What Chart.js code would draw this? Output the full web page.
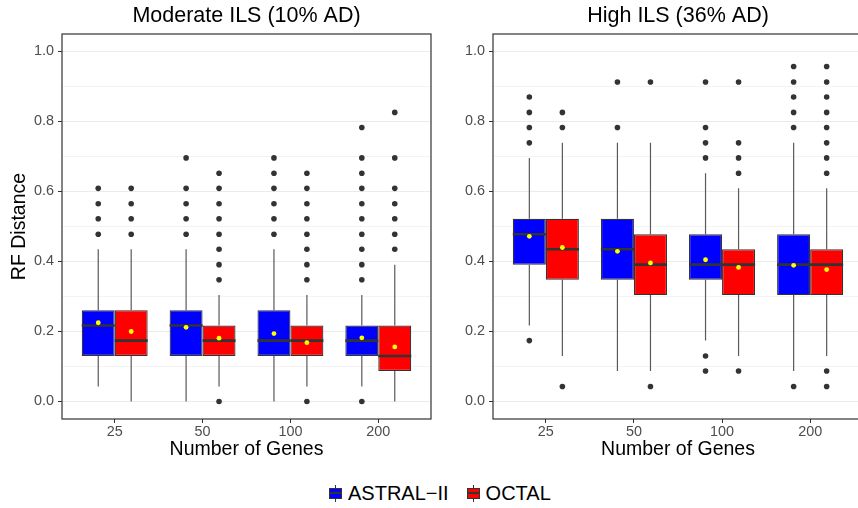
<!DOCTYPE html>
<html>
<head>
<meta charset="UTF-8">
<title>RF Distance by number of genes</title>
<script src="https://cdn.jsdelivr.net/npm/chart.js"></script>
<style>
  body { margin: 0; background: white; overflow: hidden; }
  #wrap { position: relative; width: 858px; height: 508px; overflow: hidden; background: white; }
  #left { position: absolute; left: 0; top: 0; }
  #right { position: absolute; left: 431px; top: 0; }
  #legend {
    position: absolute; left: 329px; top: 482px; height: 22px;
    display: flex; align-items: center;
    font-family: 'Liberation Sans', Arial, sans-serif; font-size: 20px; color: black;
  }
  .key { position: relative; display: inline-block; width: 13px; height: 17px; margin-right: 6px; }
  .key .wh { position: absolute; left: 6px; top: 0; width: 1px; height: 17px; background: #333; }
  .key .bx { position: absolute; left: 0; top: 3px; width: 11px; height: 9px; border: 1px solid #333; }
  .key .md { position: absolute; left: 0; top: 7px; width: 13px; height: 2px; background: #333; }
  .item { display: flex; align-items: center; margin-right: 18px; }
</style>
</head>
<body>
<div id="wrap">
  <canvas id="left" width="440" height="470"></canvas>
  <canvas id="right" width="440" height="470"></canvas>
  <div id="legend">
    <span class="item"><span class="key"><span class="wh"></span><span class="bx" style="background:#0000ff"></span><span class="md"></span></span>ASTRAL&minus;II</span>
    <span class="item"><span class="key"><span class="wh"></span><span class="bx" style="background:#ff0000"></span><span class="md"></span></span>OCTAL</span>
  </div>
</div>

<script>
  const genes = ['25', '50', '100', '200'];
  const yTicks = [0, 0.1, 0.2, 0.3, 0.4, 0.5, 0.6, 0.7, 0.8, 0.9, 1.0];

  // each box: [lower whisker, Q1, median, Q3, upper whisker]
  // Moderate ILS
  const modAstralBox = [
    [0.043, 0.130, 0.217, 0.261, 0.435],
    [0.000, 0.130, 0.217, 0.261, 0.435],
    [0.000, 0.130, 0.174, 0.261, 0.435],
    [0.043, 0.130, 0.174, 0.217, 0.304]
  ];
  const modAstralMean = [0.225, 0.212, 0.194, 0.182];
  const modAstralOut = [
    [0.478, 0.522, 0.565, 0.609],
    [0.478, 0.522, 0.565, 0.609, 0.696],
    [0.478, 0.522, 0.565, 0.609, 0.652, 0.696],
    [0.000, 0.348, 0.391, 0.435, 0.478, 0.522, 0.565, 0.609, 0.652, 0.696, 0.783]
  ];
  const modOctalBox = [
    [0.000, 0.130, 0.174, 0.261, 0.435],
    [0.043, 0.130, 0.174, 0.217, 0.304],
    [0.043, 0.130, 0.174, 0.217, 0.304],
    [0.000, 0.087, 0.130, 0.217, 0.391]
  ];
  const modOctalMean = [0.200, 0.181, 0.168, 0.156];
  const modOctalOut = [
    [0.478, 0.522, 0.565, 0.609],
    [0.000, 0.348, 0.391, 0.435, 0.478, 0.522, 0.565, 0.609, 0.652],
    [0.000, 0.348, 0.391, 0.435, 0.478, 0.522, 0.565, 0.609, 0.652],
    [0.435, 0.478, 0.522, 0.565, 0.609, 0.696, 0.826]
  ];

  // High ILS
  const highAstralBox = [
    [0.217, 0.391, 0.478, 0.522, 0.696],
    [0.087, 0.348, 0.435, 0.522, 0.739],
    [0.174, 0.348, 0.391, 0.478, 0.652],
    [0.087, 0.304, 0.391, 0.478, 0.739]
  ];
  const highAstralMean = [0.472, 0.429, 0.405, 0.389];
  const highAstralOut = [
    [0.174, 0.739, 0.783, 0.826, 0.870],
    [0.783, 0.913],
    [0.087, 0.130, 0.696, 0.739, 0.783, 0.913],
    [0.043, 0.783, 0.826, 0.870, 0.913, 0.957]
  ];
  const highOctalBox = [
    [0.130, 0.348, 0.435, 0.522, 0.739],
    [0.087, 0.304, 0.391, 0.478, 0.739],
    [0.130, 0.304, 0.391, 0.435, 0.609],
    [0.130, 0.304, 0.391, 0.435, 0.609]
  ];
  const highOctalMean = [0.440, 0.396, 0.383, 0.377];
  const highOctalOut = [
    [0.043, 0.783, 0.826],
    [0.043, 0.913],
    [0.087, 0.652, 0.696, 0.739, 0.913],
    [0.043, 0.087, 0.652, 0.696, 0.739, 0.783, 0.826, 0.870, 0.913, 0.957]
  ];

  const FONT = "'Liberation Sans', Arial, sans-serif";
  const DODGE = 0.1875; // half of a dodged box, in category units

  // whiskers, medians and panel frame
  const boxParts = {
    id: 'boxParts',
    beforeDatasetDraw(chart, args) {
      const ds = chart.data.datasets[args.index];
      if (!ds.box) return;
      const y = chart.scales.y;
      const ctx = chart.ctx;
      ctx.save();
      ctx.strokeStyle = '#5a5a5a';
      ctx.lineWidth = 1.2;
      args.meta.data.forEach((bar, i) => {
        const b = ds.box[i];
        ctx.beginPath();
        ctx.moveTo(bar.x, y.getPixelForValue(b[0]));
        ctx.lineTo(bar.x, y.getPixelForValue(b[1]));
        ctx.moveTo(bar.x, y.getPixelForValue(b[3]));
        ctx.lineTo(bar.x, y.getPixelForValue(b[4]));
        ctx.stroke();
      });
      ctx.restore();
    },
    afterDatasetDraw(chart, args) {
      const ds = chart.data.datasets[args.index];
      if (!ds.box) return;
      const y = chart.scales.y;
      const ctx = chart.ctx;
      ctx.save();
      ctx.strokeStyle = '#333333';
      ctx.lineWidth = 2.6;
      args.meta.data.forEach((bar, i) => {
        const py = y.getPixelForValue(ds.box[i][2]);
        ctx.beginPath();
        ctx.moveTo(bar.x - bar.width / 2, py);
        ctx.lineTo(bar.x + bar.width / 2, py);
        ctx.stroke();
      });
      ctx.restore();
    },
    afterDraw(chart) {
      const a = chart.chartArea;
      const ctx = chart.ctx;
      ctx.save();
      ctx.strokeStyle = '#333333';
      ctx.lineWidth = 1.2;
      ctx.strokeRect(a.left, a.top, a.right - a.left, a.bottom - a.top);
      ctx.restore();
    }
  };

  function outPoints(out, shift) {
    return out.flatMap((vals, j) => vals.map(v => ({ x: j + 1 + shift, y: v })));
  }

  function makeChart(id, title, yTitle, padRight, aBox, aMean, aOut, oBox, oMean, oOut) {
    const ctx = document.getElementById(id).getContext('2d');
    return new Chart(ctx, {
      type: 'bar',
      data: {
        datasets: [
          {
            type: 'scatter', order: 1,
            data: aMean.map((v, j) => ({ x: j + 1 - DODGE, y: v })),
            pointRadius: 2.4, pointBackgroundColor: '#ffff00', pointBorderWidth: 0
          },
          {
            type: 'scatter', order: 1,
            data: oMean.map((v, j) => ({ x: j + 1 + DODGE, y: v })),
            pointRadius: 2.4, pointBackgroundColor: '#ffff00', pointBorderWidth: 0
          },
          {
            type: 'scatter', order: 1,
            data: outPoints(aOut, -DODGE),
            pointRadius: 2.8, pointBackgroundColor: '#333333', pointBorderWidth: 0
          },
          {
            type: 'scatter', order: 1,
            data: outPoints(oOut, DODGE),
            pointRadius: 2.8, pointBackgroundColor: '#333333', pointBorderWidth: 0
          },
          {
            label: 'ASTRAL-II', order: 2, box: aBox,
            data: aBox.map((b, j) => ({ x: j + 1, y: [b[1], b[3]] })),
            backgroundColor: '#0000ff', borderColor: '#333333', borderWidth: 1.2, borderSkipped: false,
            categoryPercentage: 0.75, barPercentage: 1
          },
          {
            label: 'OCTAL', order: 2, box: oBox,
            data: oBox.map((b, j) => ({ x: j + 1, y: [b[1], b[3]] })),
            backgroundColor: '#ff0000', borderColor: '#333333', borderWidth: 1.2, borderSkipped: false,
            categoryPercentage: 0.75, barPercentage: 1
          }
        ]
      },
      options: {
        responsive: false,
        animation: false,
        devicePixelRatio: 1,
        layout: { padding: { left: 0, right: padRight, top: 0, bottom: 0 } },
        scales: {
          x: {
            type: 'linear', min: 0.4, max: 4.6, offset: false,
            afterBuildTicks: s => { s.ticks = genes.map((g, i) => ({ value: i + 1 })); },
            afterFit: s => { s.height = 51; },
            grid: { drawOnChartArea: false, drawTicks: true, tickLength: 4, tickColor: '#333333', offset: false },
            border: { display: false },
            ticks: {
              callback: v => genes[v - 1], autoSkip: false, maxRotation: 0, padding: 0,
              color: '#4d4d4d', font: { family: FONT, size: 14.4 }
            },
            title: {
              display: true, text: 'Number of Genes', color: 'black',
              font: { family: FONT, size: 19.5 }, padding: { top: 0, bottom: 8.3 }
            }
          },
          y: {
            type: 'linear', min: -0.05, max: 1.05,
            afterBuildTicks: s => { s.ticks = yTicks.map(v => ({ value: v })); },
            afterFit: s => { s.width = 62; },
            grid: {
              color: c => (Math.round(c.tick.value * 10) % 2 === 0 ? '#ebebeb' : '#f3f3f3'),
              tickColor: c => (Math.round(c.tick.value * 10) % 2 === 0 ? '#333333' : 'rgba(0,0,0,0)'),
              lineWidth: 1, tickLength: 4
            },
            border: { display: false },
            ticks: {
              callback: v => (Math.round(v * 10) % 2 === 0 ? v.toFixed(1) : ''),
              autoSkip: false, padding: 4,
              color: '#4d4d4d', font: { family: FONT, size: 14.4 }
            },
            title: {
              display: yTitle, text: 'RF Distance', color: 'black',
              font: { family: FONT, size: 19.5 }, padding: { top: 8.3, bottom: 0 }
            }
          }
        },
        plugins: {
          legend: { display: false },
          tooltip: { enabled: false },
          title: {
            display: true, text: title, fullSize: false, color: 'black',
            font: { family: FONT, size: 21.5, weight: 'normal' },
            padding: { top: 3, bottom: 5.2 }
          }
        }
      },
      plugins: [boxParts]
    });
  }

  makeChart('left', 'Moderate ILS (10% AD)', true, 9,
    modAstralBox, modAstralMean, modAstralOut, modOctalBox, modOctalMean, modOctalOut);
  makeChart('right', 'High ILS (36% AD)', false, 8,
    highAstralBox, highAstralMean, highAstralOut, highOctalBox, highOctalMean, highOctalOut);
</script>
</body>
</html>
